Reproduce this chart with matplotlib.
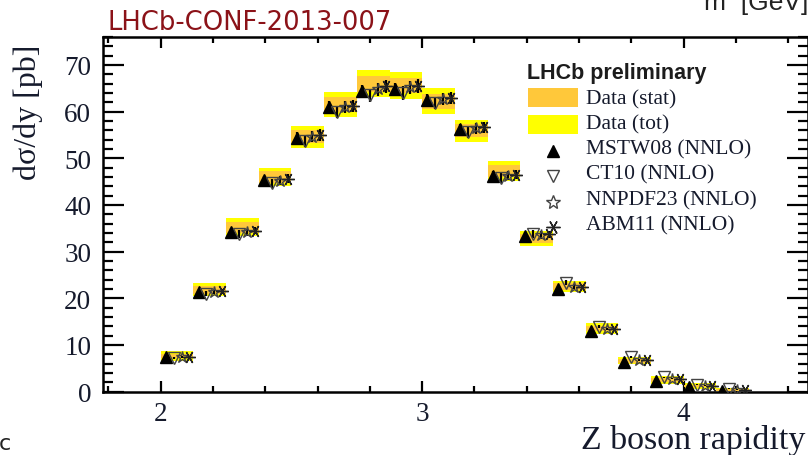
import matplotlib
matplotlib.use("Agg")
import matplotlib.pyplot as plt
from matplotlib.patches import Rectangle
from matplotlib.lines import Line2D
from matplotlib.ticker import MultipleLocator

# Z boson rapidity bins (lower edges), width 0.125
bin_lo = [2.0, 2.125, 2.25, 2.375, 2.5, 2.625, 2.75, 2.875, 3.0,
          3.125, 3.25, 3.375, 3.5, 3.625, 3.75, 3.875, 4.0, 4.125]
bin_w = 0.125

# measured dsigma/dy [pb] with stat and total uncertainties
data_val = [7.6, 21.8, 35.2, 46.0, 54.6, 61.6, 66.0, 65.6, 62.2,
            55.9, 47.3, 32.8, 22.5, 13.5, 6.6, 2.5, 1.2, 0.4]
stat_err = [0.5, 0.8, 1.2, 1.2, 1.4, 1.6, 1.7, 1.6, 1.6,
            1.4, 1.3, 1.0, 0.7, 0.6, 0.4, 0.4, 0.3, 0.2]
tot_err = [1.0, 1.4, 1.95, 2.0, 2.3, 2.7, 2.9, 2.8, 2.8,
           2.4, 2.2, 1.6, 1.2, 1.2, 0.8, 0.8, 0.7, 0.3]

# NNLO predictions
mstw = [7.5, 21.3, 34.2, 45.3, 54.4, 61.0, 64.4, 64.8, 62.5,
        56.2, 46.2, 33.3, 21.9, 13.0, 6.3, 2.3, 0.9, 0.2]
ct10 = [7.2, 21.0, 33.8, 44.6, 53.6, 60.0, 63.5, 64.0, 61.8,
        55.6, 45.8, 33.8, 23.3, 13.9, 7.4, 3.1, 1.5, 0.6]
nnpdf = [7.4, 21.3, 34.1, 45.2, 54.6, 61.0, 64.8, 65.2, 62.8,
         56.4, 46.3, 33.6, 22.5, 13.4, 6.8, 2.7, 1.2, 0.4]
abm = [7.5, 21.5, 34.5, 45.6, 55.0, 61.3, 65.4, 65.5, 63.0,
       56.6, 46.5, 33.7, 22.4, 13.4, 6.8, 2.6, 1.1, 0.3]
pdf_err = [0.2, 0.5, 0.8, 1.0, 1.2, 1.3, 1.4, 1.4, 1.3,
           1.2, 1.0, 0.8, 0.5, 0.3, 0.2, 0.1, 0.1, 0.05]

W, H = 808, 456
def fx(x):
    return x / W
def fy(y):
    return 1 - y / H

serif = ['Liberation Serif', 'DejaVu Serif']
txt_col = '#151a2c'
orange = '#ffc83a'
yellow = '#ffff00'

fig = plt.figure(figsize=(W / 100, H / 100), dpi=100)
ax = fig.add_axes([fx(103), fy(392.5), fx(808) - fx(103), fy(38) - fy(392.5)])

ax.bar(bin_lo, [2 * e for e in tot_err], width=bin_w, align='edge',
       bottom=[v - e for v, e in zip(data_val, tot_err)], color=yellow, lw=0, zorder=1)
ax.bar(bin_lo, [2 * e for e in stat_err], width=bin_w, align='edge',
       bottom=[v - e for v, e in zip(data_val, stat_err)], color=orange, lw=0, zorder=2)

offs = [0.02, 0.05, 0.08, 0.11]
series = [mstw, ct10, nnpdf, abm]
styles = [dict(marker='^', ms=8, mfc='k', mec='k'),
          dict(marker='v', ms=8, mfc='none', mec='#444444', mew=1),
          dict(marker='*', ms=9, mfc='none', mec='#444444', mew=1),
          dict(marker=(6, 2, 90), ms=9, mfc='k', mec='#222222', mew=1)]
for off, vals, st in zip(offs, series, styles):
    xs = [b + off for b in bin_lo]
    ax.errorbar(xs, vals, yerr=pdf_err, fmt='none', ecolor='k', elinewidth=1.6, capsize=0, zorder=3)
    ax.plot(xs, vals, ls='none', zorder=4, **st)

ax.set_xlim(1.7794, 2 + (808 - 160.7) / 261.5)
ax.set_ylim(0, 76)
ax.xaxis.set_major_locator(MultipleLocator(1))
ax.xaxis.set_minor_locator(MultipleLocator(0.2))
ax.yaxis.set_major_locator(MultipleLocator(10))
ax.yaxis.set_minor_locator(MultipleLocator(2))
ax.tick_params(axis='both', which='both', direction='in', top=True, right=True, width=1.6)
ax.tick_params(axis='x', which='major', length=8, pad=7)
ax.tick_params(axis='x', which='minor', length=4.5)
ax.tick_params(axis='y', which='major', length=15, pad=8.5)
ax.tick_params(axis='y', which='minor', length=7.5)
for lab in ax.get_xticklabels() + ax.get_yticklabels():
    lab.set_family(serif)
    lab.set_fontsize(19.5)
    lab.set_color(txt_col)
for s in ax.spines.values():
    s.set_linewidth(1.8)

# texts around the frame
fig.text(fx(107), fy(30), 'LHCb-CONF-2013-007', color='#8b1218', fontsize=18.6,
         family=['DejaVu Sans'], va='baseline')
fig.text(fx(704), fy(10), 'm  [GeV]', color='#222222', fontsize=19,
         family=['Liberation Sans', 'DejaVu Sans'], va='baseline')
fig.text(fx(-1), fy(450), 'c', color='#222222', fontsize=16,
         family=['DejaVu Sans'], va='baseline')
fig.text(fx(28), fy(45), 'd\u03c3/dy [pb]', rotation=90, ha='center', va='top',
         fontsize=23, family=serif, color=txt_col)
fig.text(fx(805), fy(449), 'Z boson rapidity', ha='right', va='baseline',
         fontsize=24.5, family=serif, color=txt_col)

# legend block
fig.text(fx(527), fy(79), 'LHCb preliminary', fontsize=15.5, weight='bold',
         family=['Liberation Sans', 'DejaVu Sans'], color='#1c1c1c', va='baseline')
fig.add_artist(Rectangle((fx(528), fy(108)), fx(578) - fx(528), fy(89) - fy(108),
                         transform=fig.transFigure, color=orange, lw=0))
fig.add_artist(Rectangle((fx(528), fy(135)), fx(578) - fx(528), fy(116) - fy(135),
                         transform=fig.transFigure, color=yellow, lw=0))
labels = ['Data (stat)', 'Data (tot)', 'MSTW08 (NNLO)', 'CT10 (NNLO)',
          'NNPDF23 (NNLO)', 'ABM11 (NNLO)']
ys = [100, 125, 150, 175, 201, 226]
for lab, y in zip(labels, ys):
    fig.text(fx(586), fy(y), lab, fontsize=15.5, family=serif, color=txt_col, va='center')
for st, y in zip(styles, ys[2:]):
    st = dict(st)
    st['ms'] = st['ms'] + 1
    fig.add_artist(Line2D([fx(553)], [fy(y + 2)], transform=fig.transFigure, ls='none', **st))

fig.savefig('out.png', dpi=100)
